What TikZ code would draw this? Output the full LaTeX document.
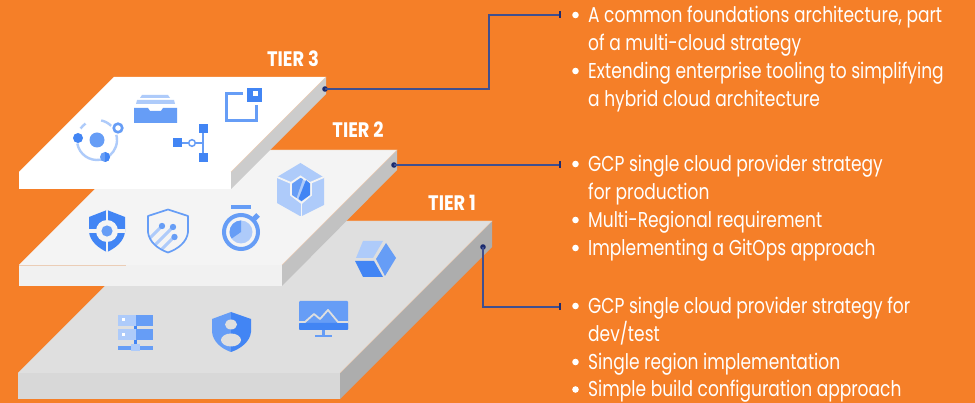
\documentclass[tikz,border=0pt]{standalone}
\usepackage{fontspec}
\usetikzlibrary{arrows.meta}
\setmainfont{Poppins}
\newfontfamily\bodyfont[FakeStretch=0.793]{Poppins}
\newfontfamily\tierfont[FakeStretch=0.85]{Poppins Bold}
\definecolor{bgorange}{HTML}{F57F28}
\definecolor{gdark}{HTML}{4285F4}
\definecolor{gmid}{HTML}{669DF6}
\definecolor{glight}{HTML}{AECBFA}
\definecolor{wireblue}{HTML}{3F4F8F}
\definecolor{dotblue}{HTML}{1C2B6E}
\definecolor{peach}{HTML}{EBCDB6}
\definecolor{tiertwotop}{HTML}{F4F4F4}
\definecolor{tieronetop}{HTML}{DFDFDF}
\definecolor{tieronefront}{HTML}{D8D8D8}
\definecolor{tieroneside}{HTML}{ADADAD}
\definecolor{tiertwofront}{HTML}{F1F1F1}
\definecolor{tiertwoside}{HTML}{C2C2C2}
\definecolor{tierthreeside}{HTML}{CCCCCC}
\tikzset{
  listline/.style={anchor=base west,inner sep=0pt,text=white,font=\bodyfont\fontsize{21.5}{22}\selectfont},
  tierlabel/.style={anchor=base,inner sep=0pt,text=white,font=\tierfont\fontsize{21}{22}\selectfont},
  bulletdot/.style={circle,fill=white,inner sep=0pt,minimum size=6.6pt},
  startdot/.style={circle,fill=dotblue,inner sep=0pt,minimum size=5.6pt},
  wire/.style={draw=wireblue,line width=1.5pt,-{Bar[width=7pt,length=1pt,color=dotblue]}},
  rim/.style={draw=peach,line width=.45pt},
}
\begin{document}
\begin{tikzpicture}[x=1pt,y=-1pt]
\useasboundingbox (0,0) rectangle (975,403);
\fill[bgorange] (0,0) rectangle (975,403);

% ---- Tier 1 slab
\fill[tieronetop] (170,221) -- (492,221) -- (340,373) -- (18,373) -- cycle;
\fill[tieronefront] (18,373) -- (340,373) -- (340,399) -- (18,399) -- cycle;
\fill[tieroneside] (492,221) -- (492,247) -- (340,399) -- (340,373) -- cycle;
\draw[rim] (170,221) -- (492,221) -- (340,373);

% ---- Tier 2 slab
\fill[tiertwotop] (134,150) -- (397,150) -- (282,265) -- (19,265) -- cycle;
\fill[tiertwofront] (19,265) -- (282,265) -- (282,286) -- (19,286) -- cycle;
\fill[tiertwoside] (397,150) -- (397,170) -- (282,286) -- (282,265) -- cycle;
\draw[rim] (134,150) -- (397,150) -- (282,265);
\draw[rim] (19,265) -- (126,265);

% ---- Tier 3 slab
\fill[white] (114,77) -- (326,77) -- (231,172) -- (19,172) -- cycle;
\fill[white] (19,172) -- (231,172) -- (231,189) -- (19,189) -- cycle;
\fill[tierthreeside] (326,77) -- (326,94) -- (231,189) -- (231,172) -- cycle;
\draw[rim] (326,77) -- (231,172);

% ---- Tier 3 icons
% orbit
\draw[glight,line width=2.4pt] ([shift={(97,140)}]170:20) arc[start angle=170,end angle=-15,radius=20];
\draw[glight,line width=2.4pt] ([shift={(97,140)}]-78:20) arc[start angle=-78,end angle=-45,radius=20];
\draw[glight,line width=2.4pt] ([shift={(97,140)}]-145:20) arc[start angle=-145,end angle=-125,radius=20];
\fill[gmid] (97,140) circle (7.5);
\fill[gdark] (78,138) circle (5);
\fill[gmid] (105,157) circle (5);
\fill[gdark] (105,152) arc[start angle=-90,end angle=90,radius=5] -- cycle;
\draw[gmid,fill=white,line width=2.6pt] (118,128) circle (4.3);
% drawer
\fill[glight] (142,95) -- (168,95) -- (170,98) -- (140,98) -- cycle;
\fill[glight] (137,100) -- (174,100) -- (175,104) -- (136,104) -- cycle;
\fill[gmid] (134,108) -- (148,108) -- (150,111) -- (161,111) -- (163,108) -- (177,108) -- (177,123) -- (134,123) -- cycle;
% square
\draw[gmid,line width=3.2pt] (243,93.6) -- (226.6,93.6) -- (226.6,120.4) -- (256.4,120.4) -- (256.4,105);
\fill[gdark] (247,88) rectangle (262,102);
\fill[white] (253,91.5) rectangle (258,96.5);
% tree
\draw[gmid,line width=1.8pt] (182,143) -- (203,143);
\draw[gmid,line width=1.8pt] (203,128) -- (203,158);
\fill[gdark] (173,138) rectangle (182,147);
\fill[gdark] (199,124) rectangle (208,133);
\fill[gdark] (199,153) rectangle (208,162);
\draw[gmid,fill=white,line width=1.5pt] (192,143) circle (3.3);

% ---- Tier 2 icons
% shield with target
\begin{scope}
\clip (107,210) -- (125,217) -- (125,232) .. controls (124,241) and (116,248) .. (107,252) .. controls (98,248) and (90,241) .. (89,232) -- (89,217) -- cycle;
\fill[gdark] (85,205) rectangle (130,255);
\fill[tiertwotop] (107,231) circle (11);
\fill[tiertwotop] (105.6,205) rectangle (108.4,255);
\fill[tiertwotop] (85,229.2) rectangle (130,233.2);
\end{scope}
\fill[gmid] (107,231) circle (5.6);
% shield with dots
\begin{scope}
\clip (168,209) -- (188,216) -- (188,232) .. controls (187,242) and (178,249) .. (168,253) .. controls (158,249) and (149,242) .. (148,232) -- (148,216) -- cycle;
\draw[glight,line width=3pt] (162,226) -- (150,238);
\draw[glight,line width=3pt] (173,227) -- (153,247);
\draw[glight,line width=3pt] (174,237) -- (160,251);
\end{scope}
\draw[gmid,line width=1.7pt,line join=round] (168,209.5) -- (188,216) -- (188,232) .. controls (187,242) and (178,249) .. (168,252.5) .. controls (158,249) and (149,242) .. (148,232) -- (148,216) -- cycle;
\fill[gmid] (162,226) circle (3.2);
\fill[gmid] (173,227) circle (3.2);
\fill[gmid] (174.5,237) circle (3.2);
% stopwatch
\fill[gmid] (231,205) rectangle (251,209.5);
\draw[gmid,line width=5pt] (252,221) -- (258,215);
\draw[gmid,fill=tiertwotop,line width=4pt] (241,232) circle (17);
\fill[glight] (241,232) circle (11.5);
\fill[gmid] (241,232) -- (241,220.5) arc[start angle=-90,end angle=-215,radius=11.5] -- cycle;
% hex cube
\fill[glight] (300.5,163) -- (324,177.5) -- (324,205) -- (302,216) -- (300,216) -- (277,203) -- (277,177) -- cycle;
\draw[tiertwotop,line width=1.8pt] (277,177) -- (291,183) -- (300.5,176.5) -- (310,183) -- (324,177);
\draw[tiertwotop,line width=1.8pt] (291,183) -- (291,195) -- (301.5,203) -- (311,195) -- (311,183);
\draw[tiertwotop,line width=1.8pt] (301.5,203) -- (301.5,216);
\fill[gmid] (292,184) -- (300.5,178) -- (303,179) -- (296.5,198) -- (292,195) -- cycle;
\fill[gdark] (306,180) -- (310,183.5) -- (310,195) -- (301.5,201) -- (298.5,199) -- cycle;

% ---- Tier 1 icons
% box
\fill[glight] (363,241) -- (383,241) -- (373,258) -- (356,258) -- cycle;
\fill[gmid] (386,243) -- (396,258) -- (385,276) -- (376,259) -- cycle;
\fill[gdark] (355,261) -- (374,261) -- (383,277) -- (363,277) -- cycle;
% monitor
\fill[gmid,rounded corners=1pt] (299,301) rectangle (348,330);
\fill[gdark,rounded corners=1pt] (299,323) rectangle (348,330);
\draw[tieronetop,line width=1.8pt,line join=round] (299,322) -- (305,322) -- (314,314) -- (320,319) -- (328,310) -- (338,322) -- (348,322);
\fill[gmid] (321.5,330) rectangle (325,336);
\fill[gmid] (315,335.5) rectangle (332,337.5);
% person shield
\fill[gmid] (231,312) -- (212,319) -- (212,332) .. controls (213,342) and (222,349) .. (231,352) -- cycle;
\fill[gdark] (231,312) -- (251,319) -- (251,332) .. controls (250,342) and (240,349) .. (231,352) -- cycle;
\fill[tieronetop] (231,324.5) ellipse[x radius=6,y radius=5];
\fill[tieronetop] (231,340) ellipse[x radius=10,y radius=6.5];
% server
\fill[glight] (118,315) rectangle (135.5,326);
\fill[gmid] (135.5,315) rectangle (153,326);
\fill[glight] (118,329) rectangle (135.5,340);
\fill[gmid] (135.5,329) rectangle (153,340);
\fill[gmid] (118,346.5) rectangle (153,350);
\fill[gdark] (134,326) rectangle (137,329);
\fill[gdark] (134,340) rectangle (137,345);
\fill[glight] (131,344.5) rectangle (139.5,351.5);
\fill[white] (121.5,318.5) rectangle (124.5,321.5);
\fill[white] (121.5,333) rectangle (124.5,336);

% ---- Tier labels
\node[tierlabel] (tthree) at (293,67) {TIER 3};
\node[tierlabel] (ttwo) at (358,138) {TIER 2};
\node[tierlabel] (tone) at (452,211) {TIER 1};

% ---- Connectors
\node[startdot] (sthree) at (325,89) {};
\node[startdot] (stwo) at (394,165) {};
\node[startdot] (sone) at (483,247) {};
\coordinate (ethree) at (560.5,15);
\coordinate (etwo) at (560.5,165);
\coordinate (eone) at (560.5,307);
\draw[wire] (sthree.center) -- (489,89) -- (489,15) -- (ethree);
\draw[wire] (stwo.center) -- (etwo);
\draw[wire] (sone.center) -- (483,307) -- (eone);

% ---- Lists
\node[bulletdot] (ba) at (575.5,15) {};
\node[listline] (la) at (588,23) {A common foundations architecture, part};
\node[listline] (lb) at (588,51) {of a multi-cloud strategy};
\node[bulletdot] (bb) at (575.5,71) {};
\node[listline] (lc) at (588,79) {Extending enterprise tooling to simplifying};
\node[listline] (ld) at (588,107) {a hybrid cloud architecture};
\node[bulletdot] (bc) at (575.5,164) {};
\node[listline] (le) at (588,172) {GCP single cloud provider strategy};
\node[listline] (lf) at (588,200) {for production};
\node[bulletdot] (bd) at (575.5,220) {};
\node[listline] (lg) at (588,228) {Multi-Regional requirement};
\node[bulletdot] (be) at (575.5,248) {};
\node[listline] (lh) at (588,256) {Implementing a GitOps approach};
\node[bulletdot] (bf) at (575.5,306) {};
\node[listline] (li) at (588,314) {GCP single cloud provider strategy for};
\node[listline] (lj) at (588,342) {dev/test};
\node[bulletdot] (bg) at (575.5,362) {};
\node[listline] (lk) at (588,369.5) {Single region implementation};
\node[bulletdot] (bh) at (575.5,389.5) {};
\node[listline] (ll) at (588,396.5) {Simple build configuration approach};
\end{tikzpicture}
\end{document}
